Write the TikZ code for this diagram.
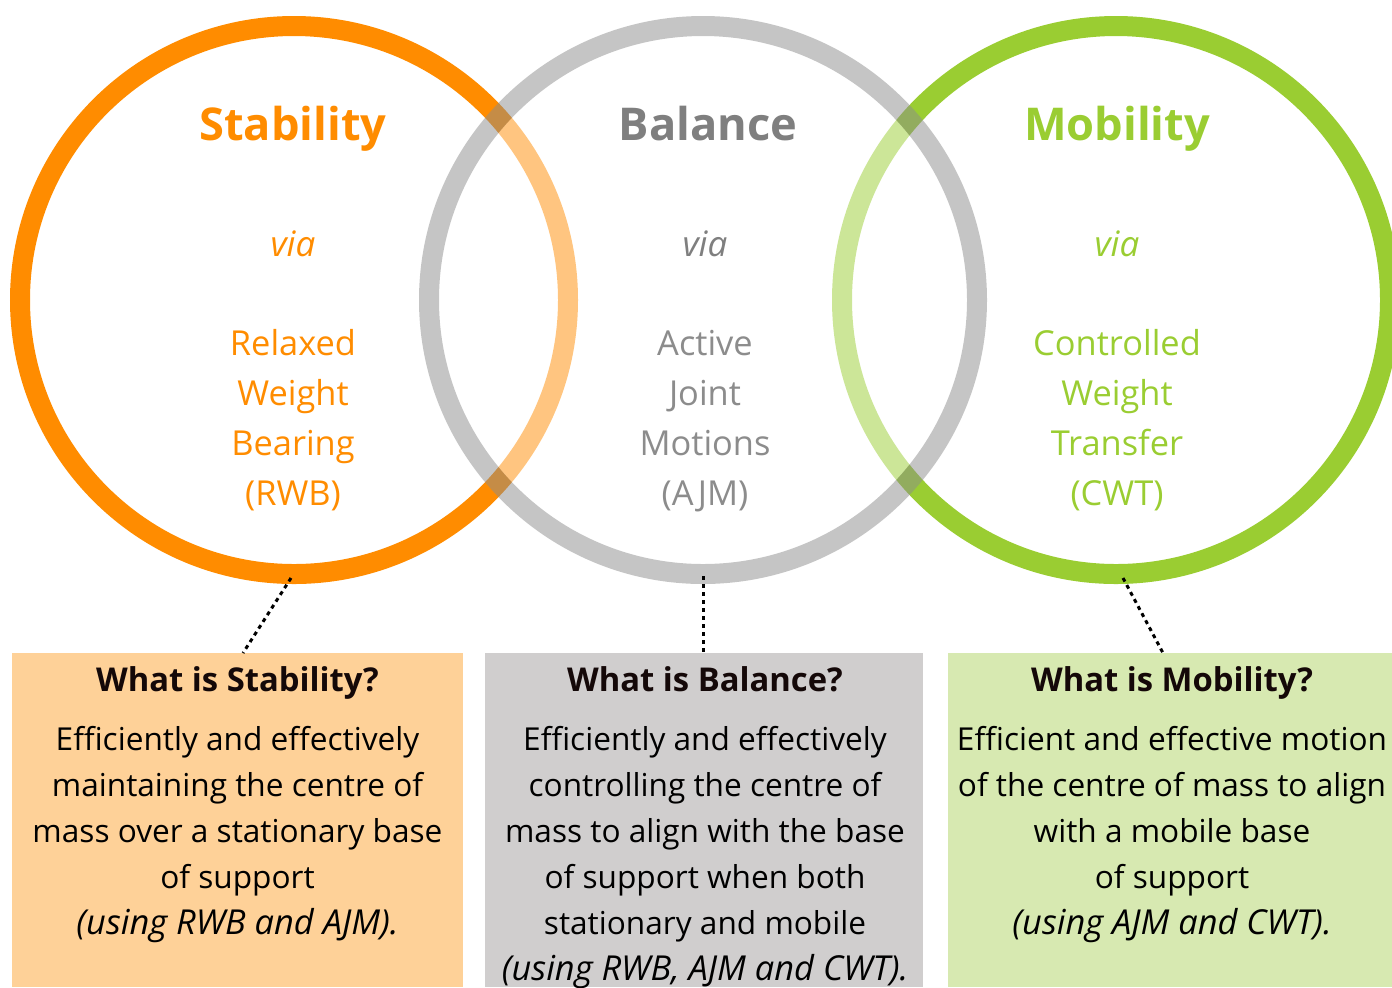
\documentclass[tikz,border=0pt]{standalone}
\usepackage{fontspec}
\setmainfont{Open Sans}
\begin{document}
\begin{tikzpicture}[x=0.5pt,y=-0.5pt]
\definecolor{stabC}{HTML}{FF8C00}
\definecolor{balC}{HTML}{8C8C8C}
\definecolor{balT}{HTML}{7F7F7F}
\definecolor{mobC}{HTML}{9ACD32}
\definecolor{stabFill}{HTML}{FED198}
\definecolor{balFill}{HTML}{D0CECE}
\definecolor{mobFill}{HTML}{D7E9B1}
\definecolor{headC}{HTML}{140808}
\newcommand{\usingnote}[1]{{\fontsize{17.2}{19}\itshape\selectfont #1}}
\tikzset{
  ring/.style={line width=10pt},
  title/.style={font=\fontsize{22.6}{28}\bfseries\selectfont, anchor=base, inner sep=0pt},
  viatext/.style={font=\fontsize{17.5}{22}\itshape\selectfont, anchor=base, inner sep=0pt},
  circtext/.style={font=\fontsize{17.2}{20}\selectfont, anchor=base, inner sep=0pt},
  boxhead/.style={font=\fontsize{16.4}{20}\bfseries\selectfont, anchor=base, inner sep=0pt, text=headC},
  boxtext/.style={font=\fontsize{15.8}{19}\selectfont, anchor=base, inner sep=0pt, text=black},
  infobox/.style={anchor=north west, inner sep=0pt, outer sep=0pt, minimum height=167pt},
  dotline/.style={line width=1.5pt, dash pattern=on 2pt off 2pt, black}
}
\useasboundingbox (0,0) rectangle (1392,987);

% rings: the balance ring sits on top and lightens what it encloses
\begin{scope}
  \clip (0,0) rectangle (1392,987);
  \draw[ring, stabC] (294,300) circle (274);
  \draw[ring, mobC] (1116,300) circle (274);
  \fill[white, fill opacity=0.5] (703,300) circle (264);
  \draw[ring, balC, draw opacity=0.5] (703,300) circle (274);
\end{scope}

% circle labels
\node[title, text=stabC] (stabTitle) at (293,140) {Stability};
\node[title, text=balT] (balTitle) at (708,140) {Balance};
\node[title, text=mobC] (mobTitle) at (1117,140) {Mobility};
\node[viatext, text=stabC] (stabVia) at (293,256) {via};
\node[viatext, text=balT] (balVia) at (705,256) {via};
\node[viatext, text=mobC] (mobVia) at (1117,256) {via};
\foreach \t [count=\i] in {Relaxed, Weight, Bearing, (RWB)}
  \node[circtext, text=stabC] (stabL\i) at (293,{355+50*(\i-1)}) {\t};
\foreach \t [count=\i] in {Active, Joint, Motions, (AJM)}
  \node[circtext, text=balC] (balL\i) at (705,{355+50*(\i-1)}) {\t};
\foreach \t [count=\i] in {Controlled, Weight, Transfer, (CWT)}
  \node[circtext, text=mobC] (mobL\i) at (1117,{355+50*(\i-1)}) {\t};

% definition boxes
\node[infobox, fill=stabFill, minimum width=225.5pt] (stabBox) at (12,653) {};
\node[infobox, fill=balFill, minimum width=219pt] (balBox) at (485,653) {};
\node[infobox, fill=mobFill, minimum width=222pt] (mobBox) at (948,653) {};

% leaders from the rings down to the boxes
\coordinate (stabFoot) at (291,578);
\coordinate (stabTip) at (243,653);
\coordinate (balFoot) at (703,576);
\coordinate (balTip) at (703,653);
\coordinate (mobFoot) at (1123,578);
\coordinate (mobTip) at (1163,653);
\draw[dotline] (stabFoot) -- (stabTip);
\draw[dotline] (balFoot) -- (balTip);
\draw[dotline] (mobFoot) -- (mobTip);

\node[boxhead] (stabHead) at (237.5,691) {What is Stability?};
\node[boxhead] (balHead) at (705,691) {What is Balance?};
\node[boxhead] (mobHead) at (1172,691) {What is Mobility?};

\foreach \t [count=\i] in {Efficiently and effectively, maintaining the centre of,
    mass over a stationary base, of support, \usingnote{(using RWB and AJM).}}
  \node[boxtext] (stabT\i) at (237.5,{750+46*(\i-1)}) {\t};
\foreach \t [count=\i] in {Efficiently and effectively, controlling the centre of,
    mass to align with the base, of support when both, stationary and mobile,
    {\usingnote{(using RWB, AJM and CWT).}}}
  \node[boxtext] (balT\i) at (705,{750+46*(\i-1)}) {\t};
\foreach \t [count=\i] in {Efficient and effective motion, of the centre of mass to align,
    with a mobile base, of support, \usingnote{(using AJM and CWT).}}
  \node[boxtext] (mobT\i) at (1172,{750+46*(\i-1)}) {\t};
\end{tikzpicture}
\end{document}
